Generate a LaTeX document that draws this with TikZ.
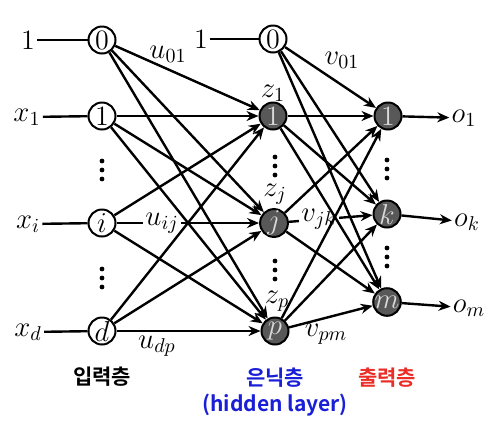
\documentclass[tikz,border=0pt]{standalone}
\usepackage{fontspec}
\usepackage{tikz}
\usetikzlibrary{arrows.meta}
\newfontfamily\kofont{Noto Sans CJK KR}[BoldFont={Noto Sans CJK KR Bold}]
\definecolor{hidblue}{RGB}{25,30,215}
\definecolor{outred}{RGB}{235,45,40}
\definecolor{unitgray}{RGB}{88,88,88}
\tikzset{
  inunit/.style={circle,draw=black,line width=1pt,fill=white,minimum size=13.5pt,inner sep=0pt,font=\fontsize{14}{14}\selectfont},
  darkunit/.style={inunit,fill=unitgray,text=white!85!black},
  wire/.style={line width=1.2pt},
  link/.style={line width=1.2pt,-{Stealth[length=6pt,width=5pt]}},
  wlabel/.style={font=\fontsize{14}{14}\selectfont,inner sep=1pt},
  dotmark/.style={circle,fill=black,inner sep=0pt,minimum size=2.4pt},
  layername/.style={font=\kofont\bfseries\fontsize{10.5}{12}\selectfont}
}
\begin{document}
\begin{tikzpicture}[x=0.5pt,y=-0.5pt]
  \useasboundingbox (0,0) rectangle (497,430);
  % input layer
  \node[inunit] (in0) at (102,40) {0};
  \node[inunit] (in1) at (102,116) {1};
  \node[inunit] (ini) at (102,223) {$i$};
  \node[inunit] (ind) at (102,331) {$d$};
  \node[wlabel] (xb) at (28,40) {1};
  \node[wlabel] (x1) at (27,117) {$x_1$};
  \node[wlabel] (xi) at (28,224) {$x_i$};
  \node[wlabel] (xd) at (28,332) {$x_d$};
  \foreach \a/\b in {xb/in0,x1/in1,xi/ini,xd/ind}
    \draw[wire] (\a) -- (\b);
  % hidden layer
  \node[inunit] (hid0) at (273,39) {0};
  \node[darkunit] (hid1) at (273,116) {1};
  \node[darkunit] (hidj) at (274,223) {$j$};
  \node[darkunit] (hidp) at (275,331) {$p$};
  \node[wlabel] (zb) at (201,39) {1};
  \draw[wire] (zb) -- (hid0);
  \node[wlabel] (z1) at (273,93) {$z_1$};
  \node[wlabel] (zj) at (275,194) {$z_j$};
  \node[wlabel] (zp) at (277,301) {$z_p$};
  % output layer
  \node[darkunit] (out1) at (388,116) {1};
  \node[darkunit] (outk) at (387,214) {$k$};
  \node[darkunit] (outm) at (387,302) {$m$};
  \node[wlabel] (o1) at (464,118) {$o_1$};
  \node[wlabel] (ok) at (467,222) {$o_k$};
  \node[wlabel] (om) at (469,308) {$o_m$};
  \foreach \a/\b in {out1/o1,outk/ok,outm/om}
    \draw[link] (\a) -- (\b);
  % vertical dots
  \foreach \x/\y in {102/170,102/278,275/166,275/270,387/169,387/257}
    \foreach \d in {-9,0,9}
      \node[dotmark] at (\x,\y+\d) {};
  % weights
  \draw[link] (ini) -- node[wlabel,fill=white,pos=0.32] (uij) {$u_{ij}$} (hidj);
  \draw[link] (hidj) -- node[wlabel,fill=white,pos=0.36] (vjk) {$v_{jk}$} (outk);
  \foreach \a/\b in {in0/hid1,in0/hidj,in0/hidp,in1/hid1,in1/hidj,in1/hidp,
                     ini/hid1,ini/hidp,ind/hid1,ind/hidj,ind/hidp}
    \draw[link] (\a) -- (\b);
  \foreach \a/\b in {hid0/out1,hid0/outk,hid0/outm,hid1/out1,hid1/outk,hid1/outm,
                     hidj/out1,hidj/outm,hidp/out1,hidp/outk,hidp/outm}
    \draw[link] (\a) -- (\b);
  \node[wlabel] (u01) at (168,54) {$u_{01}$};
  \node[wlabel] (udp) at (157,346) {$u_{dp}$};
  \node[wlabel] (v01) at (342,60) {$v_{01}$};
  \node[wlabel] (vpm) at (326,334) {$v_{pm}$};
  % layer names
  \node[layername] (inname) at (102,377) {입력층};
  \node[layername,text=hidblue] (hidname) at (275,378) {은닉층};
  \node[layername,text=hidblue] (hidname2) at (275,405) {(hidden layer)};
  \node[layername,text=outred] (outname) at (387,378) {출력층};
\end{tikzpicture}
\end{document}
